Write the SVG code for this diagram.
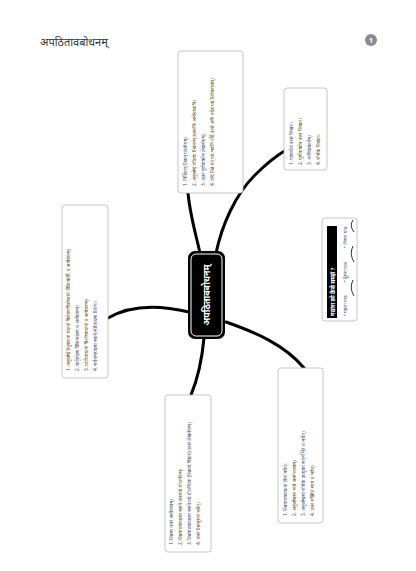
<svg xmlns="http://www.w3.org/2000/svg" width="416" height="571" viewBox="0 0 416 571">
<style>
text{font-family:"Noto Sans","DejaVu Sans",sans-serif;}
.box{fill:#fff;stroke:#b8b8b8;stroke-width:0.8;}
.t{font-size:4.8px;fill:#4a4a4a;}
.con{fill:none;stroke:#000;stroke-width:3;stroke-linecap:round;}
</style>
<rect width="416" height="571" fill="#fff"/>
<text x="40" y="46" font-size="11" fill="#333">अपठितावबोधनम्</text>
<circle cx="371" cy="40" r="6" fill="#8a8a8a"/>
<text x="371" y="42.5" font-size="7" fill="#fff" text-anchor="middle" font-weight="bold">1</text>

<g id="connectors">
<path class="con" d="M200 253 C196 235 190 215 188 193"/>
<path class="con" d="M216 253 C222 225 235 195 255 175 C266 164 276 156 286 150"/>
<path class="con" d="M226 322 C255 332 285 345 304 368"/>
<path class="con" d="M204 338 C202 360 198 378 191 395"/>
<path class="con" d="M189 312 C160 305 130 305 108 318"/>
</g>

<g id="node-center">
<rect x="188" y="251" width="37" height="88" rx="7" fill="#000"/>
<rect x="191" y="254" width="31" height="82" rx="5" fill="none" stroke="#fff" stroke-width="1"/>
<text transform="translate(210,295) rotate(-90)" font-size="9" font-weight="bold" fill="#fff" text-anchor="middle">अपठितावबोधनम्</text>
</g>

<g id="node-top">
<rect class="box" x="178" y="51" width="65" height="142" rx="3"/>
<text class="t" transform="translate(187,186) rotate(-90)">1. निर्दिष्टान् प्रश्नान् पठनीयम्।</text>
<text class="t" transform="translate(196,186) rotate(-90)">2. अनुच्छेदं पठित्वा प्रश्नानाम् उत्तराणि अन्वेष्टव्यानि।</text>
<text class="t" transform="translate(205,186) rotate(-90)">3. उत्तरं पूर्णवाक्येन लेखनीयम्।</text>
<text class="t" transform="translate(214,186) rotate(-90)">4. यदि प्रश्ने यत् पदं भवति तर्हि उत्तरे अपि तदेव पदं प्रयोक्तव्यम्।</text>
</g>

<g id="node-topright">
<rect class="box" x="284" y="88" width="43" height="82" rx="3"/>
<text class="t" transform="translate(293,165) rotate(-90)">1. एकपदेन उत्तरं लिखत।</text>
<text class="t" transform="translate(302,165) rotate(-90)">2. पूर्णवाक्येन उत्तरं लिखत।</text>
<text class="t" transform="translate(311,165) rotate(-90)">3. भाषिककार्यम्।</text>
<text class="t" transform="translate(320,165) rotate(-90)">4. शीर्षकं लिखत।</text>
</g>

<g id="node-guide">
<rect class="box" x="322" y="218" width="35" height="103" rx="3"/>
<rect x="327" y="226" width="10" height="92" fill="#000"/>
<text transform="translate(334.5,316) rotate(-90)" font-size="5.5" font-weight="bold" fill="#fff">गद्यांश को कैसे समझें ?</text>
<text class="t" transform="translate(347,316) rotate(-90)" font-size="5">• पहला पाठ</text>
<text class="t" transform="translate(347,282) rotate(-90)" font-size="5">• दूसरा पाठ</text>
<text class="t" transform="translate(347,248) rotate(-90)" font-size="5">• तीसरा पाठ</text>
<path d="M354 296 Q349 288 353 280" fill="none" stroke="#000" stroke-width="0.8"/>
<path d="M354 262 Q349 254 353 246" fill="none" stroke="#000" stroke-width="0.8"/>
<path d="M354 232 Q349 226 353 220" fill="none" stroke="#000" stroke-width="0.8"/>
</g>

<g id="node-left">
<rect class="box" x="62" y="205" width="46" height="173" rx="3"/>
<text class="t" transform="translate(70,371) rotate(-90)">1. अनुच्छेदे प्रयुक्तानां पदानां विशेषणविशेष्ययोः क्रियाकर्त्रोः च अन्वेषणम्।</text>
<text class="t" transform="translate(79,371) rotate(-90)">2. कर्तृपदस्य क्रियापदस्य च अन्वेषणम्।</text>
<text class="t" transform="translate(88,371) rotate(-90)">3. पर्यायपदानां विलोमपदानां च अन्वेषणम्।</text>
<text class="t" transform="translate(97,371) rotate(-90)">4. सर्वनामपदस्य स्थाने संज्ञापदस्य प्रयोगः।</text>
</g>

<g id="node-bottom">
<rect class="box" x="165" y="395" width="46" height="157" rx="3"/>
<text class="t" transform="translate(173,545) rotate(-90)">1. प्रश्नस्य उत्तरं अन्वेष्टव्यम्।</text>
<text class="t" transform="translate(182,545) rotate(-90)">2. प्रश्नवाचकपदस्य स्थाने उत्तरपदं योजनीयम्।</text>
<text class="t" transform="translate(191,545) rotate(-90)">3. प्रश्नवाचकपदस्य स्थाने पदं योजयित्वा (प्रश्नपदं विहाय) उत्तरं लेखनीयम्।</text>
<text class="t" transform="translate(200,545) rotate(-90)">4. उत्तरं प्रश्नानुसारं भवेत्।</text>
</g>

<g id="node-bottomright">
<rect class="box" x="278" y="368" width="45" height="155" rx="3"/>
<text class="t" transform="translate(287,516) rotate(-90)">1. प्रश्नवाचकपदानां ज्ञानं भवेत्।</text>
<text class="t" transform="translate(296,516) rotate(-90)">2. अनुच्छेदस्य भावं अवगन्तव्यम्।</text>
<text class="t" transform="translate(305,516) rotate(-90)">3. अनुच्छेदस्य शीर्षकं उपयुक्तं सारगर्भितं च भवेत्।</text>
<text class="t" transform="translate(314,516) rotate(-90)">4. उत्तरं संक्षिप्तं स्पष्टं च भवेत्।</text>
</g>
</svg>
